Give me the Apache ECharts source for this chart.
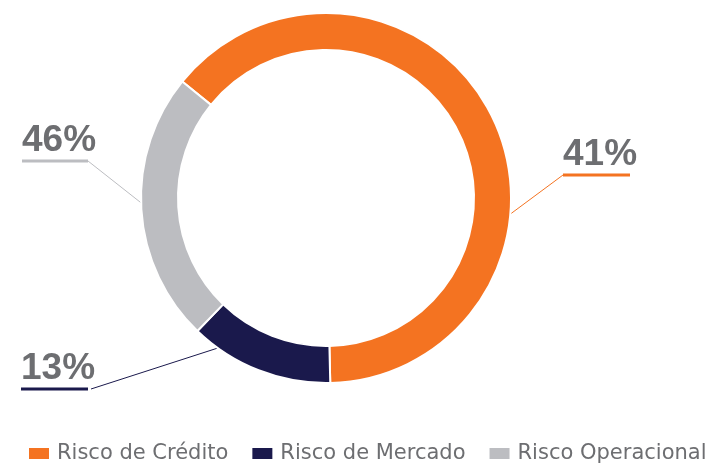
<!DOCTYPE html>
<html>
<head>
<meta charset="utf-8">
<script src="https://cdn.jsdelivr.net/npm/echarts@6/dist/echarts.min.js"></script>
<style>
  html, body { margin: 0; padding: 0; background: #fff; }
  #chart { width: 710px; height: 465px; }
</style>
</head>
<body>
<div id="chart"></div>
<script>
// slice shares as drawn in the ring, and the printed labels
const categories = ['Risco de Crédito', 'Risco de Mercado', 'Risco Operacional']
const shares = [63.8, 12.6, 23.6]
const labelTexts = ['41%', '13%', '46%']
const colors = ['#F47321', '#1A194C', '#BCBDC1']

// where each label sits: ring anchor angle (deg clockwise from top), underline start and end
const spots = [
  { angle: 95, x: 563, y: 175, x2: 630 },
  { angle: 215.8, x: 91, y: 389, x2: 21 },
  { angle: 268.5, x: 88, y: 161, x2: 22 }
]

const center = [326, 198]
const outerR = 185

const chart = echarts.init(document.getElementById('chart'))

function anchor(angle) {
  const a = angle * Math.PI / 180
  return [center[0] + outerR * Math.sin(a), center[1] - outerR * Math.cos(a)]
}

chart.setOption({
  animation: false,
  color: colors,
  legend: {
    left: 27,
    top: 443,
    width: 700,
    padding: 0,
    icon: 'rect',
    itemWidth: 22,
    itemHeight: 13,
    itemGap: 22,
    textStyle: { fontFamily: 'DejaVu Sans', fontSize: 21, color: '#6D6E71', padding: [0, 0, 0, 2] },
    data: categories
  },
  series: [{
    type: 'pie',
    center: center,
    radius: [148, outerR],
    startAngle: 141,
    itemStyle: { borderColor: '#fff', borderWidth: 2 },
    label: {
      show: true,
      formatter: p => '{t|' + labelTexts[p.dataIndex] + '}\n{u' + p.dataIndex + '|}',
      rich: {
        t: { fontFamily: 'Liberation Sans', fontWeight: 'bold', fontSize: 37, color: '#6D6E71', lineHeight: 38 },
        u0: { width: 67, height: 3, backgroundColor: colors[0] },
        u1: { width: 67, height: 3, backgroundColor: colors[1] },
        u2: { width: 66, height: 3, backgroundColor: colors[2] }
      }
    },
    labelLine: { show: true, lineStyle: { width: 1 } },
    labelLayout: params => {
      const s = spots[params.dataIndex]
      const left = Math.min(s.x, s.x2)
      return {
        x: left,
        y: s.y + 1.5,
        align: 'left',
        verticalAlign: 'bottom',
        labelLinePoints: [anchor(s.angle), [s.x, s.y], [s.x, s.y]]
      }
    },
    data: categories.map((name, i) => ({ name: name, value: shares[i] }))
  }]
})
</script>
</body>
</html>
